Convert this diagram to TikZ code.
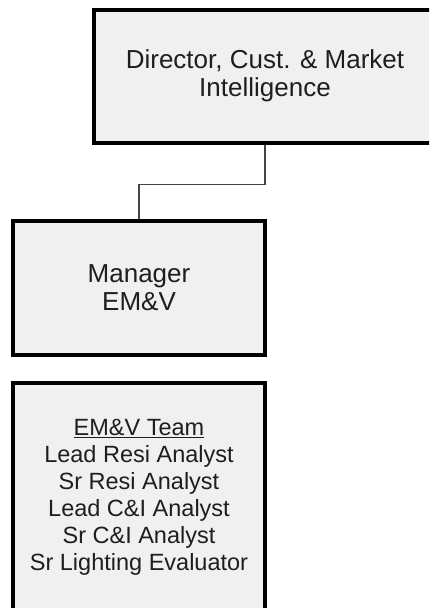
\documentclass[tikz,border=0pt]{standalone}
\usepackage{fontspec}
\setmainfont{Liberation Sans}
\begin{document}
\begin{tikzpicture}[x=1pt,y=-1pt,
  orgbox/.style={draw=black, line width=4pt, fill=boxfill, text=textgray,
    align=center, inner sep=0pt, minimum width=252pt},
  link/.style={draw=linkgray, line width=1.4pt}]
\definecolor{boxfill}{HTML}{F0F0F0}
\definecolor{textgray}{HTML}{1E1E1E}
\definecolor{linkgray}{HTML}{444444}
\useasboundingbox (0,0) rectangle (429,608);
\clip (0,0) rectangle (429,608);
\fill[white] (0,0) rectangle (429,608);
% Director (runs past the right edge)
\node[orgbox, minimum width=342pt, minimum height=133pt,
      font=\fontsize{26}{28}\selectfont] (dir) at (265,76)
  {Director, Cust. \& Market\\Intelligence};
% Manager
\node[orgbox, minimum height=134pt,
      font=\fontsize{26}{28}\selectfont] (mgr) at (139,288)
  {Manager\\EM\&V};
% Team (runs past the bottom edge)
\node[orgbox, minimum height=228pt,
      font=\fontsize{23.5}{27}\selectfont] (team) at (139,497)
  {\underline{EM\&V Team}\\Lead Resi Analyst\\Sr Resi Analyst\\Lead C\&I Analyst\\Sr C\&I Analyst\\Sr Lighting Evaluator};
% Reporting line
\draw[link] (dir.south) -- ++(0,40) -| (mgr.north);
\end{tikzpicture}
\end{document}
